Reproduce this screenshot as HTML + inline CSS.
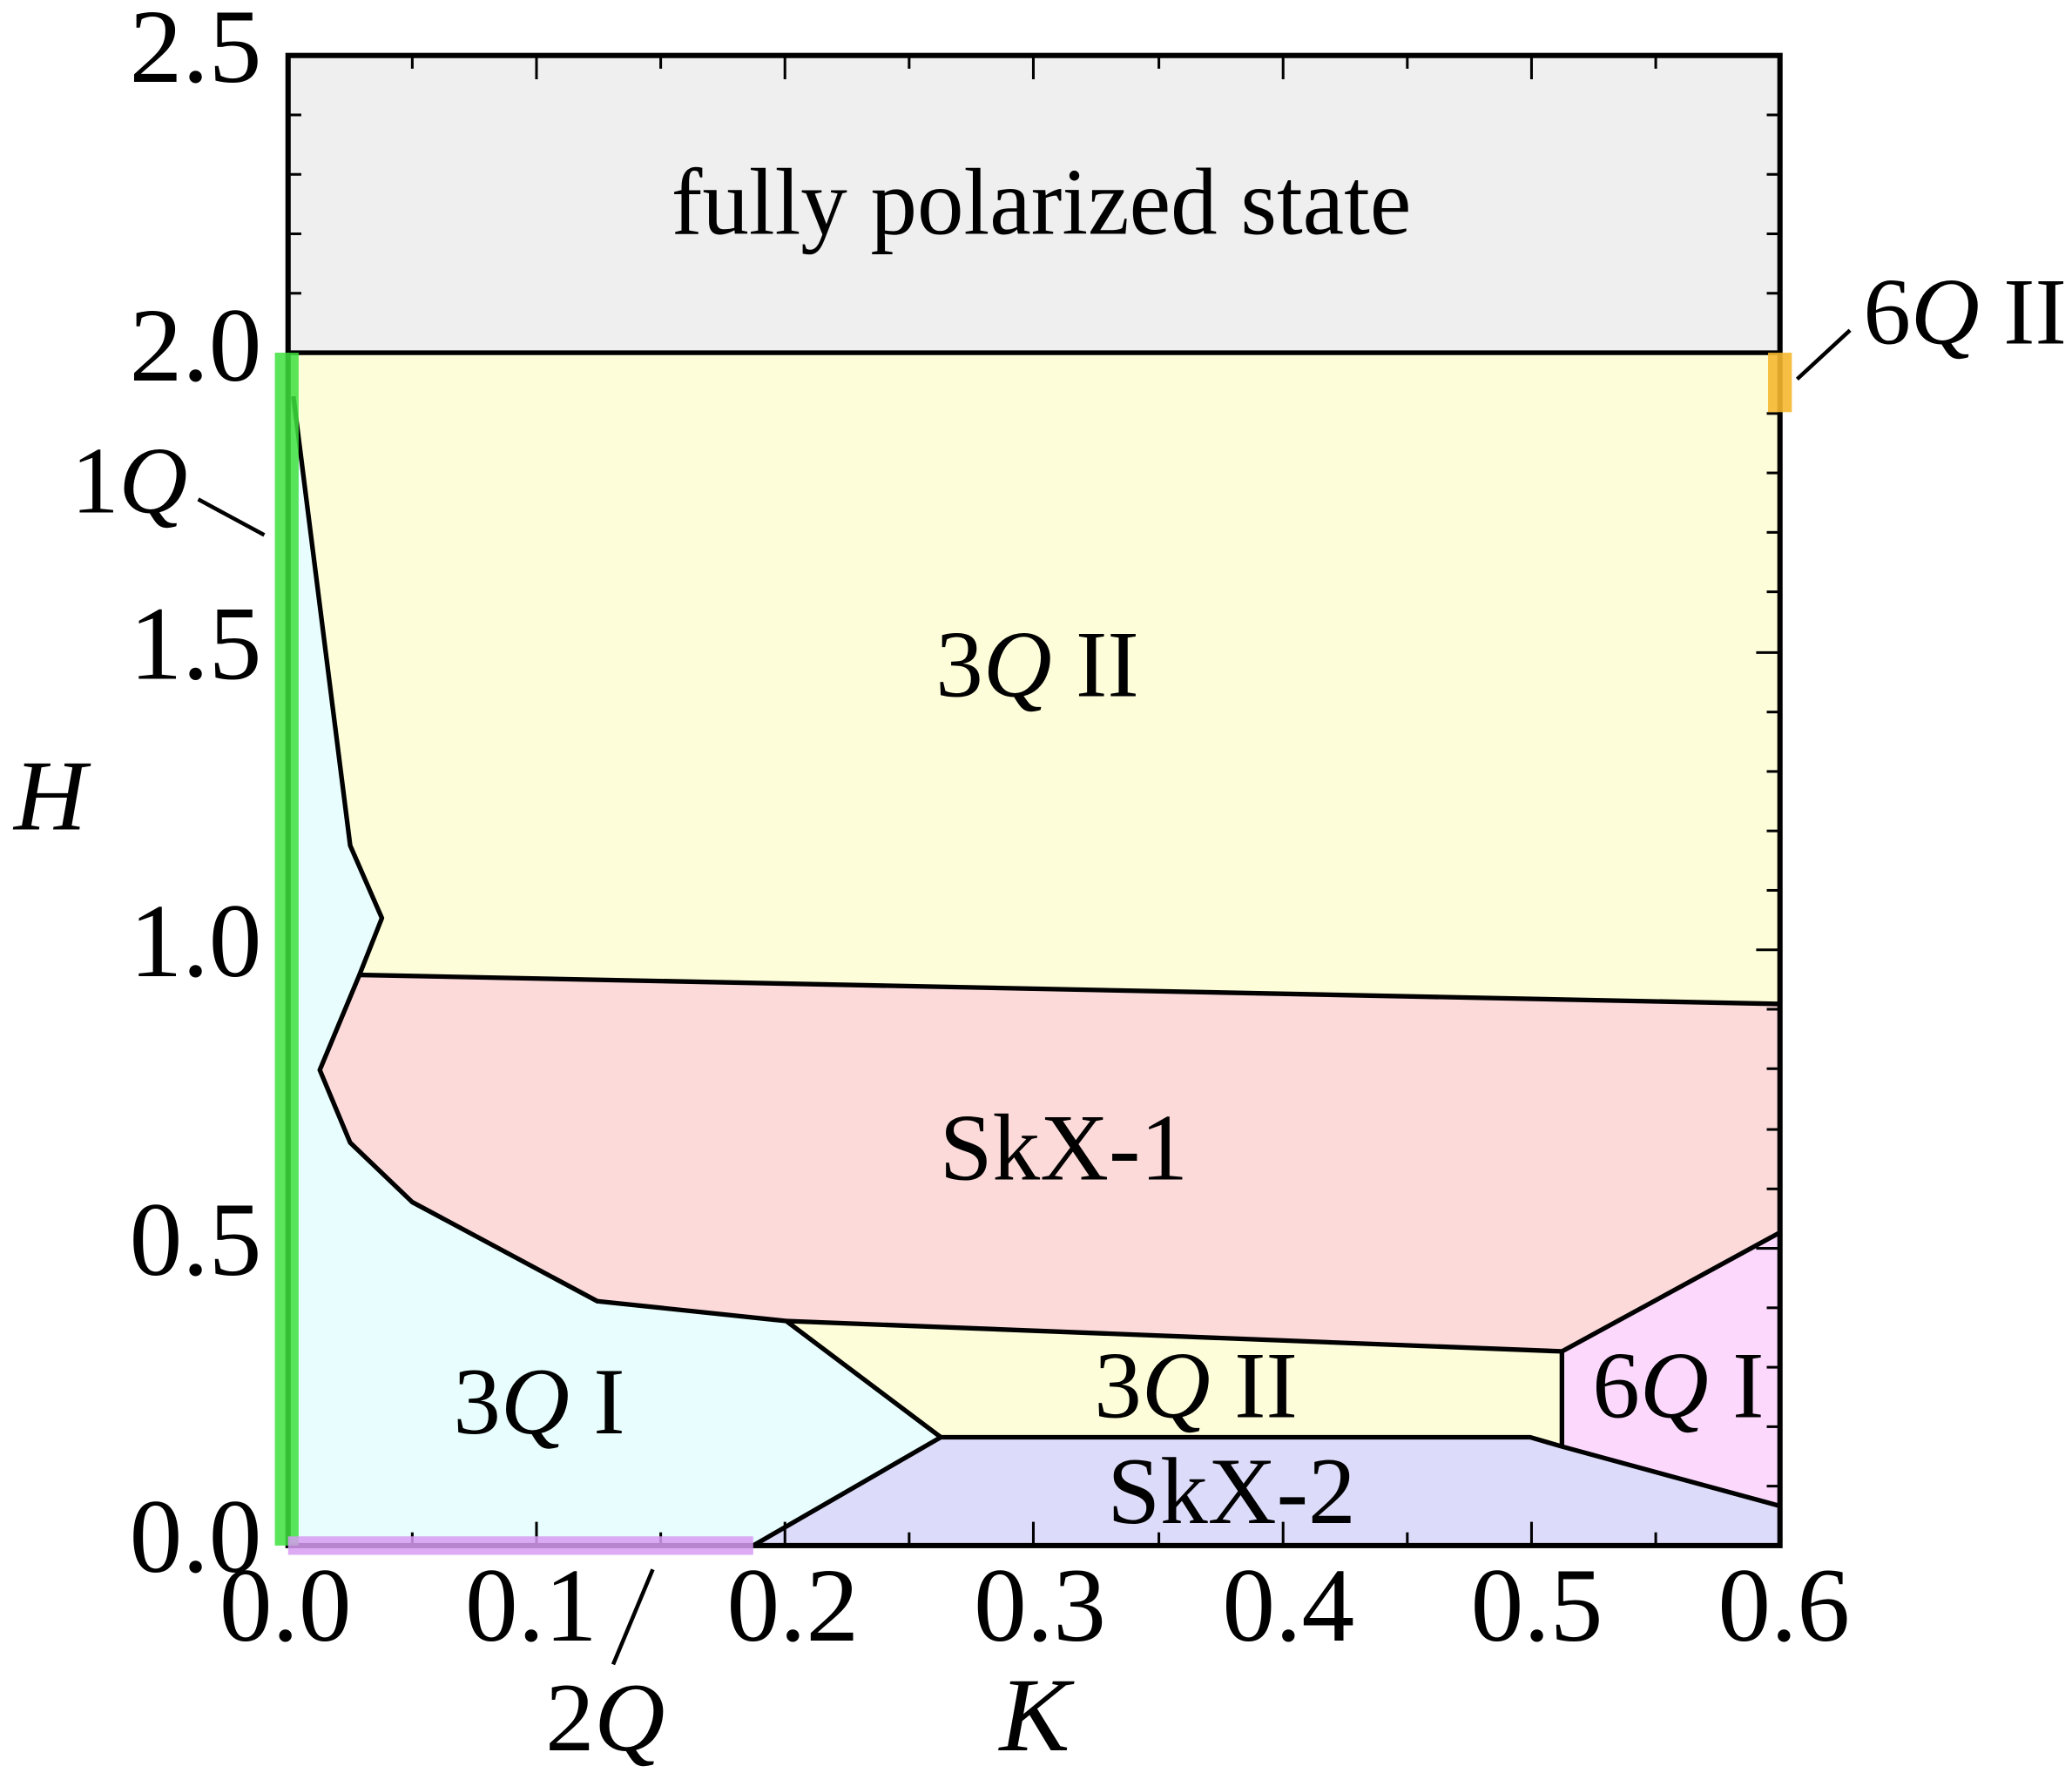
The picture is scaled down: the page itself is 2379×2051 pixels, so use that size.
<!DOCTYPE html>
<html><head><meta charset="utf-8"><style>html,body{margin:0;padding:0;background:#fff}svg{display:block}</style></head>
<body>
<svg width="2379" height="2051" viewBox="0 0 1568 1352" preserveAspectRatio="none" xmlns="http://www.w3.org/2000/svg" font-family="Liberation Serif, serif">
<rect x="218" y="42" width="1129" height="225" fill="#efefef"/>
<polygon points="218,267 1347,267 1347,760 272,738 289,695 265,640 222,300 218,300" fill="#fdfdd9"/>
<polygon points="218,300 222,300 265,640 289,695 272,738 242,810 265,865 312,910 452,985 595,1000 712,1088 570,1170 218,1170" fill="#e8fdfd"/>
<polygon points="272,738 1347,760 1347,933 1182,1023 595,1000 452,985 312,910 265,865 242,810" fill="#fcdada"/>
<polygon points="595,1000 1182,1023 1182,1095 1158,1088 712,1088" fill="#fdfdd9"/>
<polygon points="1182,1023 1347,933 1347,1140 1182,1095" fill="#fcd9fc"/>
<polygon points="570,1170 712,1088 1158,1088 1182,1095 1347,1140 1347,1170" fill="#dcdcfa"/>
<g fill="none" stroke="#000" stroke-width="3.5" stroke-linejoin="round">
<line x1="218" y1="267" x2="1347" y2="267"/>
<polyline points="222,300 265,640 289,695 272,738 242,810 265,865 312,910 452,985 595,1000 712,1088 570,1170"/>
<line x1="272" y1="738" x2="1347" y2="760"/>
<polyline points="595,1000 1182,1023 1347,933"/>
<polyline points="712,1088 1158,1088 1182,1095 1347,1140"/>
<line x1="1182" y1="1023" x2="1182" y2="1095"/>
</g>
<g stroke="#000" stroke-width="2">
<line x1="312" y1="1170" x2="312" y2="1160"/><line x1="406" y1="1170" x2="406" y2="1152"/><line x1="500" y1="1170" x2="500" y2="1160"/>
<line x1="594" y1="1170" x2="594" y2="1152"/><line x1="688" y1="1170" x2="688" y2="1160"/><line x1="782" y1="1170" x2="782" y2="1152"/>
<line x1="877" y1="1170" x2="877" y2="1160"/><line x1="971" y1="1170" x2="971" y2="1152"/><line x1="1065" y1="1170" x2="1065" y2="1160"/>
<line x1="1159" y1="1170" x2="1159" y2="1152"/><line x1="1253" y1="1170" x2="1253" y2="1160"/>
<line x1="312" y1="42" x2="312" y2="52"/><line x1="406" y1="42" x2="406" y2="60"/><line x1="500" y1="42" x2="500" y2="52"/>
<line x1="594" y1="42" x2="594" y2="60"/><line x1="688" y1="42" x2="688" y2="52"/><line x1="782" y1="42" x2="782" y2="60"/>
<line x1="877" y1="42" x2="877" y2="52"/><line x1="971" y1="42" x2="971" y2="60"/><line x1="1065" y1="42" x2="1065" y2="52"/>
<line x1="1159" y1="42" x2="1159" y2="60"/><line x1="1253" y1="42" x2="1253" y2="52"/>
<line x1="1347" y1="1125" x2="1337" y2="1125"/><line x1="1347" y1="1080" x2="1337" y2="1080"/><line x1="1347" y1="1035" x2="1337" y2="1035"/><line x1="1347" y1="990" x2="1337" y2="990"/>
<line x1="1347" y1="945" x2="1329" y2="945"/><line x1="1347" y1="900" x2="1337" y2="900"/><line x1="1347" y1="855" x2="1337" y2="855"/><line x1="1347" y1="809" x2="1337" y2="809"/><line x1="1347" y1="764" x2="1337" y2="764"/>
<line x1="1347" y1="719" x2="1329" y2="719"/><line x1="1347" y1="674" x2="1337" y2="674"/><line x1="1347" y1="629" x2="1337" y2="629"/><line x1="1347" y1="584" x2="1337" y2="584"/><line x1="1347" y1="539" x2="1337" y2="539"/>
<line x1="1347" y1="494" x2="1329" y2="494"/><line x1="1347" y1="448" x2="1337" y2="448"/><line x1="1347" y1="403" x2="1337" y2="403"/><line x1="1347" y1="358" x2="1337" y2="358"/><line x1="1347" y1="313" x2="1337" y2="313"/>
<line x1="1347" y1="222" x2="1337" y2="222"/><line x1="1347" y1="177" x2="1337" y2="177"/><line x1="1347" y1="132" x2="1337" y2="132"/><line x1="1347" y1="87" x2="1337" y2="87"/>
<line x1="218" y1="222" x2="228" y2="222"/><line x1="218" y1="177" x2="228" y2="177"/><line x1="218" y1="132" x2="228" y2="132"/><line x1="218" y1="87" x2="228" y2="87"/>
</g>
<rect x="218" y="42" width="1129" height="1128" fill="none" stroke="#000" stroke-width="4"/>
<rect x="208" y="267" width="18" height="903" fill="#3ee03e" opacity="0.85"/>
<rect x="218" y="1163" width="352" height="14" fill="#d79cf2" opacity="0.85"/>
<rect x="1338" y="267" width="18" height="45" fill="#f5b830" opacity="0.9"/>
<g font-size="80" text-anchor="end">
<text x="198" y="1190" textLength="100" lengthAdjust="spacingAndGlyphs">0.0</text><text x="198" y="965" textLength="100" lengthAdjust="spacingAndGlyphs">0.5</text><text x="198" y="739" textLength="100" lengthAdjust="spacingAndGlyphs">1.0</text>
<text x="198" y="514" textLength="100" lengthAdjust="spacingAndGlyphs">1.5</text><text x="198" y="288" textLength="100" lengthAdjust="spacingAndGlyphs">2.0</text><text x="198" y="62" textLength="100" lengthAdjust="spacingAndGlyphs">2.5</text>
</g>
<g font-size="80" text-anchor="middle">
<text x="216" y="1242" textLength="100" lengthAdjust="spacingAndGlyphs">0.0</text><text x="402" y="1242" textLength="100" lengthAdjust="spacingAndGlyphs">0.1</text><text x="600" y="1242" textLength="100" lengthAdjust="spacingAndGlyphs">0.2</text>
<text x="787" y="1242" textLength="100" lengthAdjust="spacingAndGlyphs">0.3</text><text x="975" y="1242" textLength="100" lengthAdjust="spacingAndGlyphs">0.4</text><text x="1163" y="1242" textLength="100" lengthAdjust="spacingAndGlyphs">0.5</text><text x="1350" y="1242" textLength="100" lengthAdjust="spacingAndGlyphs">0.6</text>
</g>
<line x1="494" y1="1188" x2="464" y2="1260" stroke="#000" stroke-width="3"/>
<text x="458" y="1325" font-size="74" text-anchor="middle">2<tspan font-style="italic">Q</tspan></text>
<text x="783" y="1325" font-size="80" font-style="italic" text-anchor="middle">K</text>
<text x="38" y="628" font-size="76" font-style="italic" text-anchor="middle">H</text>
<text x="788" y="177" font-size="72" text-anchor="middle" textLength="560" lengthAdjust="spacingAndGlyphs">fully polarized state</text>
<text x="785" y="527" font-size="72" text-anchor="middle">3<tspan font-style="italic">Q</tspan> II</text>
<text x="805" y="893" font-size="72" text-anchor="middle">SkX-1</text>
<text x="408" y="1085" font-size="72" text-anchor="middle">3<tspan font-style="italic">Q</tspan> I</text>
<text x="905" y="1073" font-size="72" text-anchor="middle">3<tspan font-style="italic">Q</tspan> II</text>
<text x="1270" y="1073" font-size="72" text-anchor="middle">6<tspan font-style="italic">Q</tspan> I</text>
<text x="932" y="1153" font-size="72" text-anchor="middle">SkX-2</text>
<text x="98" y="388" font-size="72" text-anchor="middle">1<tspan font-style="italic">Q</tspan></text>
<line x1="150" y1="378" x2="200" y2="405" stroke="#000" stroke-width="3"/>
<text x="1487" y="260" font-size="72" text-anchor="middle">6<tspan font-style="italic">Q</tspan> II</text>
<line x1="1360" y1="287" x2="1400" y2="250" stroke="#000" stroke-width="3"/>
</svg>
</body></html>
